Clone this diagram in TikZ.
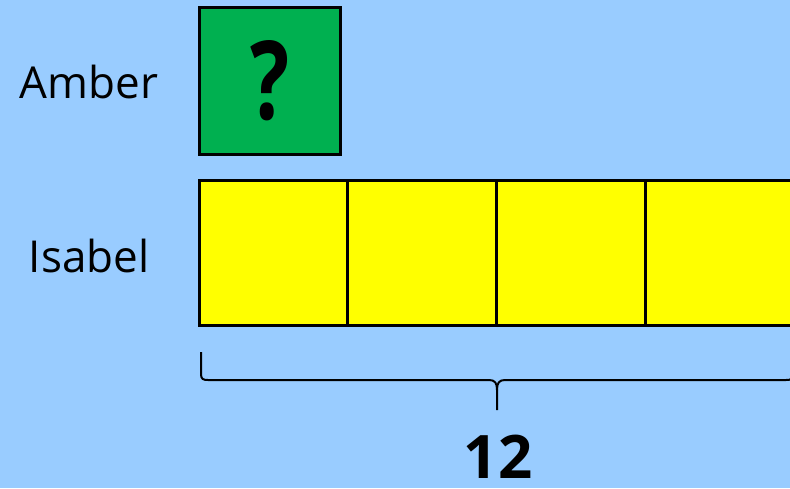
\documentclass[tikz,border=0pt]{standalone}
\usepackage{fontspec}
\setmainfont{Open Sans}
\usetikzlibrary{positioning}

\definecolor{skyblue}{HTML}{99CCFF}
\definecolor{ambergreen}{HTML}{00B050}
\definecolor{isabelyellow}{HTML}{FFFF00}

\begin{document}
\begin{tikzpicture}[x=1pt, y=-1pt,
    every node/.style={font=\fontsize{44}{48}\selectfont},
    who/.style={anchor=center, inner sep=0pt},
    box/.style={draw, line width=3pt, fill=ambergreen, inner sep=0pt,
                minimum width=140.5pt, minimum height=146.5pt},
    cell/.style={draw, line width=3pt, fill=isabelyellow, inner sep=0pt,
                 minimum width=148.8pt, minimum height=145.5pt},
    brace/.style={line width=2pt, line join=round}
]
\fill[skyblue] (0,0) rectangle (790,488);
\useasboundingbox (0,0) rectangle (790,488);
\clip (0,0) rectangle (790,488);

% names
\node[who] (amber)  at (89,82)  {Amber};
\node[who] (isabel) at (89,256) {Isabel};

% bars
\node[box] (unknown) at (269.75,80.75) {\resizebox{39pt}{79pt}{\bfseries ?}};
\foreach \i in {0,...,3}
    \node[cell] (cell\i) at ({199+74.4+\i*148.8},252.75) {};

% brace under Isabel
\draw[brace] (201,352) -- (201,374) .. controls (201,379) and (203,380) .. (208,380)
    -- (489,380) .. controls (495,380) and (497,383) .. (497,390) -- (497,410);
\draw[brace] (497,390) .. controls (497,383) and (499,380) .. (505,380)
    -- (786,380) .. controls (791,380) and (793,379) .. (793,374) -- (793,352);
\node[who, font=\fontsize{60}{62}\selectfont\bfseries] (total) at (498,457) {12};
\end{tikzpicture}
\end{document}
